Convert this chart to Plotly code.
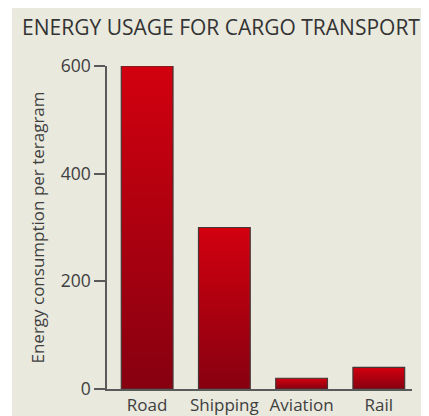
import plotly.graph_objects as go

# data
modes = ['Road', 'Shipping', 'Aviation', 'Rail']
energy = [600, 300, 20, 40]
y_ticks = [0, 200, 400, 600]

BG = '#e9e9de'
TEXT = '#404040'
BAR_W = 0.67
W, H = 421, 408  # page body adds 8px margin, so this fills the window

fig = go.Figure()

# bars drawn as filled shapes so each one can carry its own vertical gradient
for i, (mode, val) in enumerate(zip(modes, energy)):
    x0, x1 = i - BAR_W / 2, i + BAR_W / 2
    fig.add_trace(go.Scatter(
        x=[x0, x0, x1, x1, x0],
        y=[0, val, val, 0, 0],
        mode='lines',
        fill='toself',
        fillgradient=dict(
            type='vertical',
            colorscale=[[0, '#870010'], [1, '#d2000f']],
        ),
        line=dict(color='#463636', width=1.2),
        cliponaxis=False,
        name=mode,
        hovertemplate=mode + ': %{y}<extra></extra>',
        showlegend=False,
    ))

fig.update_layout(
    width=W,
    height=H,
    paper_bgcolor='white',
    plot_bgcolor='rgba(0,0,0,0)',
    margin=dict(l=99, r=17, t=58, b=27, autoexpand=False),
    font=dict(family='Open Sans, Lato, sans-serif', color=TEXT, size=17),
    title=dict(
        text='ENERGY USAGE FOR CARGO TRANSPORT',
        x=213 / W, xanchor='center', xref='container',
        y=1 - 20 / H, yanchor='middle', yref='container',
        font=dict(size=21, color='#333333'),
        automargin=False,
    ),
    xaxis=dict(
        range=[-0.52, 3.43],
        tickvals=list(range(len(modes))),
        ticktext=modes,
        showgrid=False,
        zeroline=False,
        showline=True,
        linecolor='#5a5a5a',
        linewidth=1.5,
        ticks='',
        automargin=False,
        fixedrange=True,
    ),
    yaxis=dict(
        range=[0, 600],
        tickvals=y_ticks,
        tickfont=dict(size=17.5),
        showgrid=False,
        zeroline=False,
        showline=True,
        linecolor='#5a5a5a',
        linewidth=1.5,
        ticks='outside',
        ticklen=11,
        tickwidth=1.5,
        tickcolor='#5a5a5a',
        title=dict(text='Energy consumption per teragram', standoff=12,
                   font=dict(size=17)),
        automargin=False,
        fixedrange=True,
    ),
    shapes=[dict(
        type='rect', xref='paper', yref='paper', layer='below',
        x0=(4 - 99) / 305, x1=1.2, y0=-0.2, y1=1.2,
        fillcolor=BG, line=dict(width=0),
    )],
)

fig.write_html("out.html")
